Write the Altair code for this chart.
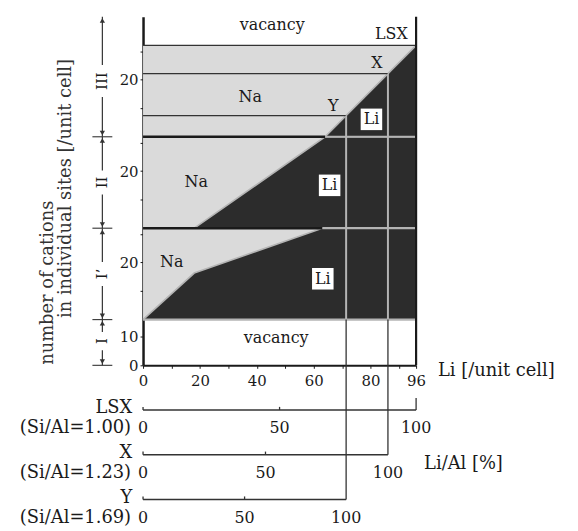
import altair as alt
import pandas as pd

FONT = "DejaVu Serif"
INK = "#1a1a1a"
NA_FILL = "#dadada"
LI_FILL = "#2c2c2c"
LIGHT = "#b4b4b4"

# ---------------- data ----------------
# cation sites (counts per unit cell, stacked)
region_names = ["I", "I\u2019", "II", "III"]
region_lo = [0, 16, 48, 80]
region_hi = [16, 48, 80, 122]
region_label_y = [8.5, 32, 64, 99.5]
site_cap_top = [16, 48, 80, 112]

# zeolites
zeolites = ["LSX", "X", "Y"]
si_al = ["(Si/Al=1.00)", "(Si/Al=1.23)", "(Si/Al=1.69)"]
al_per_cell = [96, 86.1, 71.4]          # Li at 100 % exchange
fill_top = [112, 102.1, 87.4]           # total occupancy top in site III

# Li boundary in each site block
li_Ip_x = [0, 18, 63, 96]
li_Ip_y = [16, 32.3, 48, 48]
li_II_x = [18, 64, 96]
li_II_y = [48, 80, 80]
li_III_x = [64, 96]
li_III_y = [80, 112]

# axis ticks
xtick_values = [0, 10, 20, 30, 40, 50, 60, 70, 80, 90, 96]
xtick_shown = [0, 20, 40, 60, 80, 96]
ytick_values = [0, 10, 26, 36, 46, 58, 68, 78, 90, 100, 110]
ytick_labels = {0: "0", 10: "10", 36: "20", 68: "20", 100: "20"}

# secondary Li/Al [%] axes (vertical placement in y-units below 0)
sec_axis_y = [-15.65, -31.3, -47.0]
sec_label_y = [-22.0, -37.6, -53.4]
sec_pct = [0, 50, 100]

# in-plot labels
txt_text = ["vacancy", "vacancy", "Na", "Na", "Na", "LSX", "X", "Y"]
txt_x = [45.4, 46.8, 37.7, 18.7, 10.1, 87.3, 82.2, 66.9]
txt_y = [119.0, 9.4, 93.9, 64.3, 36.2, 116.0, 105.7, 90.8]
li_box_x = [80.3, 65.6, 63.2]
li_box_y = [86.1, 63.0, 30.3]

# ---------------- scales / axes ----------------
W, H = 275, 351
xs = alt.Scale(domain=[0, 96], nice=False, zero=False)
ys = alt.Scale(domain=[0, 122], nice=False, zero=False)

label_expr_x = "indexof([" + ",".join(str(v) for v in xtick_shown) + "], datum.value) >= 0 ? datum.label : ''"
label_expr_y = " : ".join(f"datum.value == {k} ? '{v}'" for k, v in ytick_labels.items()) + " : ''"
x_axis = alt.Axis(
    values=xtick_values, labelExpr=label_expr_x, title=None, grid=False,
    tickSize=3, tickColor=INK, domainColor=INK, domainWidth=2,
    labelFont=FONT, labelFontSize=15, labelColor=INK, labelPadding=5,
    labelFlush=False, labelOverlap=False)
y_axis = alt.Axis(
    values=ytick_values, labelExpr=label_expr_y, title=None, grid=False,
    tickSize=3, tickColor=INK, domainColor=INK, domainWidth=2.5,
    labelFont=FONT, labelFontSize=15, labelColor=INK, labelPadding=2,
    labelFlush=False, labelOverlap=False)


def X(f="x"):
    return alt.X(f"{f}:Q", scale=xs, axis=x_axis)


def Y(f="y"):
    return alt.Y(f"{f}:Q", scale=ys, axis=y_axis, stack=None)


# ---------------- Na background blocks ----------------
na_df = pd.DataFrame({
    "x": [0] * 3, "x2": [96] * 3,
    "y": region_lo[1:], "y2": site_cap_top[1:],
})
na_layer = alt.Chart(na_df).mark_rect(color=NA_FILL).encode(
    x=X(), x2="x2:Q", y=Y(), y2="y2:Q")

# ---------------- Li dark areas ----------------
rows = []
for name, xs_, ys_, base in [("Ip", li_Ip_x, li_Ip_y, 16), ("II", li_II_x, li_II_y, 48),
                             ("III", li_III_x, li_III_y, 80)]:
    for a, b in zip(xs_, ys_):
        rows.append({"g": name, "x": a, "y": b, "y2": base})
li_df = pd.DataFrame(rows)
li_layer = alt.Chart(li_df).mark_area(color=LI_FILL, interpolate="linear").encode(
    x=X(), y=Y(), y2="y2:Q", detail="g:N")

# Li boundary light lines
li_line = alt.Chart(li_df).mark_line(color=LIGHT, strokeWidth=1.6).encode(
    x=X(), y=Y(), detail="g:N")

# ---------------- horizontal lines ----------------
h_rows = [
    # light lines inside the dark Li area
    {"x": 0, "x2": 96, "y": 16, "c": LIGHT, "w": 2.2},
    {"x": li_Ip_x[2], "x2": 96, "y": 48, "c": LIGHT, "w": 2.2},
    {"x": li_II_x[1], "x2": 96, "y": 80, "c": LIGHT, "w": 2.2},
    # dark boundary lines
    {"x": 0, "x2": li_Ip_x[2], "y": 48, "c": INK, "w": 2.4},
    {"x": 0, "x2": li_II_x[1], "y": 80, "c": INK, "w": 2.4},
]
for a, t in zip(al_per_cell, fill_top):
    h_rows.append({"x": 0, "x2": a, "y": t, "c": "#333333", "w": 1.4})
h_df = pd.DataFrame(h_rows)
h_layer = alt.Chart(h_df).mark_rule().encode(
    x=X(), x2="x2:Q", y=Y(),
    color=alt.Color("c:N", scale=None), strokeWidth=alt.StrokeWidth("w:Q", scale=None))

# ---------------- vertical lines ----------------
v_rows = [{"x": 96, "y": 0, "y2": 122, "c": INK, "w": 2.2}]
for a, t, sy in zip(al_per_cell[1:], fill_top[1:], sec_axis_y[1:]):
    v_rows.append({"x": a, "y": 16, "y2": t, "c": LIGHT, "w": 2.0})
    v_rows.append({"x": a, "y": sy, "y2": 16, "c": "#333333", "w": 1.3})
# upward end/mid ticks of the secondary axes
for a, sy in zip(al_per_cell, sec_axis_y):
    for p in sec_pct[:2]:
        v_rows.append({"x": a * p / 100, "y": sy, "y2": sy + 1.1, "c": "#333333", "w": 1.3})
v_rows.append({"x": al_per_cell[0], "y": sec_axis_y[0], "y2": sec_axis_y[0] + 4.2, "c": "#333333", "w": 1.3})
v_df = pd.DataFrame(v_rows)
v_layer = alt.Chart(v_df).mark_rule().encode(
    x=X(), y=Y(), y2="y2:Q",
    color=alt.Color("c:N", scale=None), strokeWidth=alt.StrokeWidth("w:Q", scale=None))

# secondary axis lines
sec_df = pd.DataFrame({"x": [0] * 3, "x2": al_per_cell, "y": sec_axis_y})
sec_layer = alt.Chart(sec_df).mark_rule(color="#333333", strokeWidth=1.5).encode(
    x=X(), x2="x2:Q", y=Y())

# secondary tick labels
sl_rows = []
for a, ly in zip(al_per_cell, sec_label_y):
    for p in sec_pct:
        sl_rows.append({"x": a * p / 100, "y": ly, "t": str(p)})
sl_df = pd.DataFrame(sl_rows)
sl_layer = alt.Chart(sl_df).mark_text(font=FONT, fontSize=16, color=INK).encode(
    x=X(), y=Y(), text="t:N")

# zeolite names and Si/Al
zn_df = pd.DataFrame({"x": [-3.8] * 3, "y": [s + 0.6 for s in sec_axis_y], "t": zeolites})
zs_df = pd.DataFrame({"x": [-4.2] * 3, "y": sec_label_y, "t": si_al})
zn_layer = alt.Chart(zn_df).mark_text(font=FONT, fontSize=18, color=INK, align="right").encode(
    x=X(), y=Y(), text="t:N")
zs_layer = alt.Chart(zs_df).mark_text(font=FONT, fontSize=18, color=INK, align="right").encode(
    x=X(), y=Y(), text="t:N")

# axis titles on right
at_df = pd.DataFrame({"x": [103.7, 98.8], "y": [-2.1, -34.4], "t": ["Li [/unit cell]", "Li/Al [%]"]})
at_layer = alt.Chart(at_df).mark_text(font=FONT, fontSize=18, color=INK, align="left").encode(
    x=X(), y=Y(), text="t:N")

# ---------------- in-plot labels ----------------
txt_df = pd.DataFrame({"x": txt_x, "y": txt_y, "t": txt_text})
txt_layer = alt.Chart(txt_df).mark_text(font=FONT, fontSize=16, color=INK).encode(
    x=X(), y=Y(), text="t:N")

lb_df = pd.DataFrame({"x": li_box_x, "y": li_box_y, "t": ["Li"] * 3})
lb_box = alt.Chart(lb_df).mark_point(shape="square", filled=True, color="white", size=470, opacity=1).encode(
    x=X(), y=Y())
lb_txt = alt.Chart(lb_df).mark_text(font=FONT, fontSize=16, color=INK).encode(
    x=X(), y=Y(), text="t:N")

# ---------------- site bracket ----------------
BX = -14.3
gap = [3.2, 4.2, 4.2, 5.6]
b_rows = []
for lo, hi, c, g in zip(region_lo, region_hi, region_label_y, gap):
    b_rows.append({"y": lo, "y2": c - g})
    b_rows.append({"y": c + g, "y2": hi})
b_df = pd.DataFrame(b_rows).assign(x=BX)
b_layer = alt.Chart(b_df).mark_rule(color="#333333", strokeWidth=1.2).encode(
    x=X(), y=Y(), y2="y2:Q")

cross_df = pd.DataFrame({"y": region_lo, "x": [BX - 3.5] * 4, "x2": [BX + 3.5] * 4})
cross_layer = alt.Chart(cross_df).mark_rule(color="#333333", strokeWidth=1.1).encode(
    x=X(), x2="x2:Q", y=Y())

ar_rows = []
for lo in region_lo:
    ar_rows.append({"x": BX, "y": lo + 1.3, "s": "triangle-down"})
    if lo > 0:
        ar_rows.append({"x": BX, "y": lo - 1.3, "s": "triangle-up"})
ar_rows.append({"x": BX, "y": region_hi[-1] - 1.3, "s": "triangle-up"})
ar_df = pd.DataFrame(ar_rows)
ar_layer = alt.Chart(ar_df).mark_point(filled=True, color="#333333", size=28, opacity=1).encode(
    x=X(), y=Y(), shape=alt.Shape("s:N", scale=None))

rl_df = pd.DataFrame({"x": [BX] * 4, "y": region_label_y, "t": region_names})
rl_layer = alt.Chart(rl_df).mark_text(font=FONT, fontSize=15, color=INK, angle=270).encode(
    x=X(), y=Y(), text="t:N")

# y title (two rotated lines)
yt_df = pd.DataFrame({"x": [-33.5, -26.9], "y": [28.9, 61.9],
                      "t": ["number of cations", "in individual sites [/unit cell]"]})
yt_layer = alt.Chart(yt_df).mark_text(font=FONT, fontSize=18, color="#333333", angle=270).encode(
    x=X(), y=Y(), text="t:N")

chart = alt.layer(
    na_layer, li_layer, li_line, h_layer, v_layer, sec_layer, sl_layer,
    zn_layer, zs_layer, at_layer, txt_layer, lb_box, lb_txt,
    b_layer, cross_layer, ar_layer, rl_layer, yt_layer,
).properties(
    width=W, height=H,
    autosize=alt.AutoSizeParams(type="none"),
    padding={"left": 136, "top": 7, "right": 155, "bottom": 165},
).configure_view(stroke=None)

chart.save("out.html", embed_options={"renderer": "svg", "actions": False})
